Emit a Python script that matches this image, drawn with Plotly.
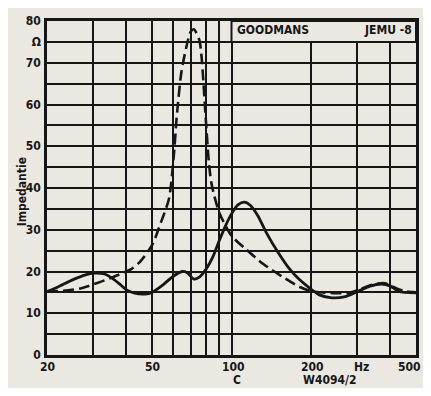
import math
import plotly.graph_objects as go

# ---- data ----
freq_solid = [20, 22, 25, 28, 30, 33, 35.5, 38, 40, 43, 47, 50, 55, 60, 65, 68, 72, 76, 80, 85, 90, 95, 100,
              106, 112, 118, 126, 135, 150, 165, 180, 200, 215, 240, 270, 300, 335, 370, 400, 430, 500]
imp_solid = [15.2, 16.3, 18.0, 19.2, 19.6, 19.4, 18.3, 16.8, 15.6, 14.8, 14.6, 15.0, 16.8, 18.8, 20.0, 19.7,
             18.2, 18.8, 20.5, 23.5, 27.5, 31.0, 33.8, 36.0, 36.6, 35.8, 33.3, 29.5, 24.6, 20.8, 18.2, 15.8,
             14.4, 13.7, 14.0, 15.2, 16.5, 17.0, 16.5, 15.2, 14.9]

freq_dash = [20, 23, 27, 31.5, 36, 42, 45, 50, 54, 58, 60.5, 62, 64.5, 67.3, 70, 72, 75.5, 77, 80, 82, 84,
             90, 100, 113, 132, 160, 180, 200, 250, 280, 300, 340, 380, 420, 460, 500]
imp_dash = [15.2, 15.4, 16.0, 17.4, 18.8, 20.7, 22.3, 26.3, 31.7, 37.5, 48.0, 57.0, 67.5, 73.5, 77.4, 78.0,
            75.5, 71.5, 56.0, 46.5, 41.0, 34.0, 28.6, 25.4, 21.8, 18.3, 16.4, 15.3, 14.8, 14.9, 15.5, 16.8,
            17.2, 16.0, 15.2, 15.0]

x_grid = [20, 30, 40, 50, 60, 70, 80, 90, 100, 200, 300, 400, 500]
x_label_pos = [20, 50, 100, 200, 300, 500]
x_label_txt = ["20", "50", "100", "200", "Hz", "500"]
x_label_shift = [0, 0, 2, 2, 4, -7]
y_grid = list(range(0, 85, 5))
y_labels = ["0", "", "10", "", "20", "", "30", "", "40", "", "50", "", "60", "", "70", "Ω", "80"]

title_left = "GOODMANS"
title_right = "JEMU -8"
axis_title = "Impedantie"
foot_c = "C"
foot_code = "W4094/2"

paper = "#ebe8e2"
ink = "#161616"
font_fam = "Liberation Sans Narrow, DejaVu Sans Condensed, Arial Narrow, sans-serif"

fig = go.Figure()
fig.add_trace(go.Scatter(x=freq_dash, y=imp_dash, mode="lines",
                         line=dict(color=ink, width=2.6, dash="11px,5px", shape="spline", smoothing=0.7),
                         showlegend=False, hoverinfo="skip"))
fig.add_trace(go.Scatter(x=freq_solid, y=imp_solid, mode="lines",
                         line=dict(color=ink, width=2.8, shape="spline", smoothing=0.7),
                         showlegend=False, hoverinfo="skip"))

fig.update_xaxes(type="log", range=[math.log10(20), math.log10(500)],
                 tickvals=x_grid, showticklabels=False, showgrid=True, gridcolor=ink, gridwidth=2,
                 showline=True, linecolor=ink, linewidth=2.5, mirror=True, ticks="", zeroline=False)
fig.update_yaxes(range=[0, 80], tickvals=y_grid, ticktext=y_labels, showgrid=True, gridcolor=ink,
                 gridwidth=2, showline=True, linecolor=ink, linewidth=2.5, mirror=True, ticks="",
                 zeroline=False, ticklabelstandoff=1,
                 tickfont=dict(family=font_fam, size=12, color=ink, weight="bold"))

# header box covering top row from 100 Hz to 500 Hz
fig.add_shape(type="rect", xref="paper", yref="y", x0=0.5, x1=1.0, y0=75, y1=80,
              fillcolor=paper, line=dict(color=ink, width=2), layer="above")

ann_font = dict(family=font_fam, size=12, color=ink, weight="bold")
for f, t, s in zip(x_label_pos, x_label_txt, x_label_shift):
    fig.add_annotation(text=t, xref="x", yref="paper", x=math.log10(f), y=-0.035, xshift=s,
                       xanchor="center", yanchor="middle", showarrow=False, font=ann_font)
fig.add_annotation(text=title_left, xref="paper", yref="paper", x=0.51, y=0.972,
                   xanchor="left", yanchor="middle", showarrow=False, font=ann_font)
fig.add_annotation(text=title_right, xref="paper", yref="paper", x=0.995, y=0.972,
                   xanchor="right", yanchor="middle", showarrow=False, font=ann_font)
fig.add_annotation(text=axis_title, xref="paper", yref="paper", x=-0.068, y=0.49,
                   textangle=-90, showarrow=False, xanchor="center", yanchor="middle",
                   font=dict(family=font_fam, size=12, color=ink, weight="bold"))
fig.add_annotation(text=foot_c, xref="paper", yref="paper", x=0.514, y=-0.074,
                   showarrow=False, xanchor="center", yanchor="middle", font=ann_font)
fig.add_annotation(text=foot_code, xref="paper", yref="paper", x=0.765, y=-0.074,
                   showarrow=False, xanchor="center", yanchor="middle", font=ann_font)

# page body has an 8px default margin, so the figure is sized to fit inside the 431x396 window
fig.update_layout(width=423, height=380, margin=dict(l=39, r=15, t=6, b=33),
                  paper_bgcolor=paper, plot_bgcolor=paper, showlegend=False)

fig.write_html("out.html")
